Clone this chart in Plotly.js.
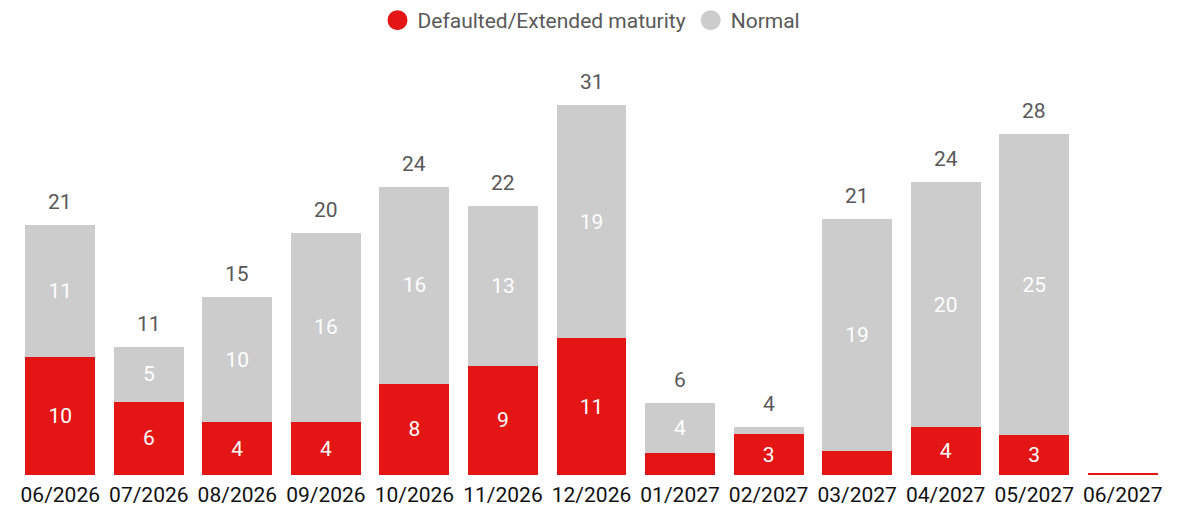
<!DOCTYPE html>
<html>
<head>
<meta charset="utf-8">
<script src="https://cdn.plot.ly/plotly-3.0.1.min.js"></script>
<style>
html,body{margin:0;padding:0;background:#fff;}
#chart{width:1191px;height:511px;}
</style>
</head>
<body>
<div id="chart"></div>
<script>
const categories = ['06/2026','07/2026','08/2026','09/2026','10/2026','11/2026','12/2026','01/2027','02/2027','03/2027','04/2027','05/2027','06/2027'];
const defaulted = [9.8, 6.1, 4.4, 4.4, 7.6, 9.1, 11.4, 1.8, 3.4, 2.0, 4.0, 3.3, 0.15];
const normal    = [11.0, 4.6, 10.4, 15.8, 16.4, 13.3, 19.4, 4.2, 0.6, 19.3, 20.4, 25.1, 0];
const seriesNames = ['Defaulted/Extended maturity', 'Normal'];
const colors = ['#E41515', '#CCCCCC'];

const totals = categories.map((c, i) => defaulted[i] + normal[i]);
const segLabel = v => (v >= 2.5 ? v.toFixed(0) : '');
const font = 'Roboto, "Open Sans", sans-serif';

const traces = [
  {
    type: 'bar', x: categories, y: defaulted, name: seriesNames[0],
    marker: {color: colors[0]}, showlegend: false,
    text: defaulted.map(segLabel), textposition: 'inside', insidetextanchor: 'middle',
    textangle: 0, textfont: {family: font, size: 21, color: '#ffffff'},
    constraintext: 'none', hoverinfo: 'x+y'
  },
  {
    type: 'bar', x: categories, y: normal, name: seriesNames[1],
    marker: {color: colors[1]}, showlegend: false,
    text: normal.map(segLabel), textposition: 'inside', insidetextanchor: 'middle',
    textangle: 0, textfont: {family: font, size: 21, color: '#ffffff'},
    constraintext: 'none', hoverinfo: 'x+y'
  },
  {
    type: 'scatter', mode: 'markers', x: [null], y: [null], name: seriesNames[0],
    marker: {symbol: 'circle', size: 16, color: colors[0], line: {color: colors[0], width: 4}}
  },
  {
    type: 'scatter', mode: 'markers', x: [null], y: [null], name: seriesNames[1],
    marker: {symbol: 'circle', size: 16, color: colors[1], line: {color: colors[1], width: 4}}
  }
];

const annotations = categories.map((c, i) => totals[i] >= 1 ? {
  x: c, y: totals[i], xref: 'x', yref: 'y', text: totals[i].toFixed(0),
  showarrow: false, yshift: 23, yanchor: 'middle',
  font: {family: font, size: 21, color: '#595959'}
} : null).filter(a => a);

const layout = {
  width: 1191, height: 511,
  margin: {l: 16, r: 24, t: 60, b: 36},
  paper_bgcolor: '#ffffff', plot_bgcolor: '#ffffff',
  barmode: 'stack', bargap: 0.21,
  font: {family: font, size: 21, color: '#595959'},
  xaxis: {
    type: 'category', showgrid: false, zeroline: false, showline: false,
    ticks: '', ticklabelstandoff: 5,
    tickfont: {family: font, size: 21, color: '#111111'}
  },
  yaxis: {visible: false, range: [0, 34.58], showgrid: false, zeroline: false},
  legend: {
    orientation: 'h', x: 0.5, xanchor: 'center', xref: 'paper',
    y: 1, yref: 'container', yanchor: 'top', traceorder: 'normal',
    font: {family: font, size: 21, color: '#595959'},
    itemclick: false, itemdoubleclick: false
  },
  annotations: annotations,
  showlegend: true
};

Plotly.newPlot('chart', traces, layout, {displayModeBar: false});
</script>
</body>
</html>
